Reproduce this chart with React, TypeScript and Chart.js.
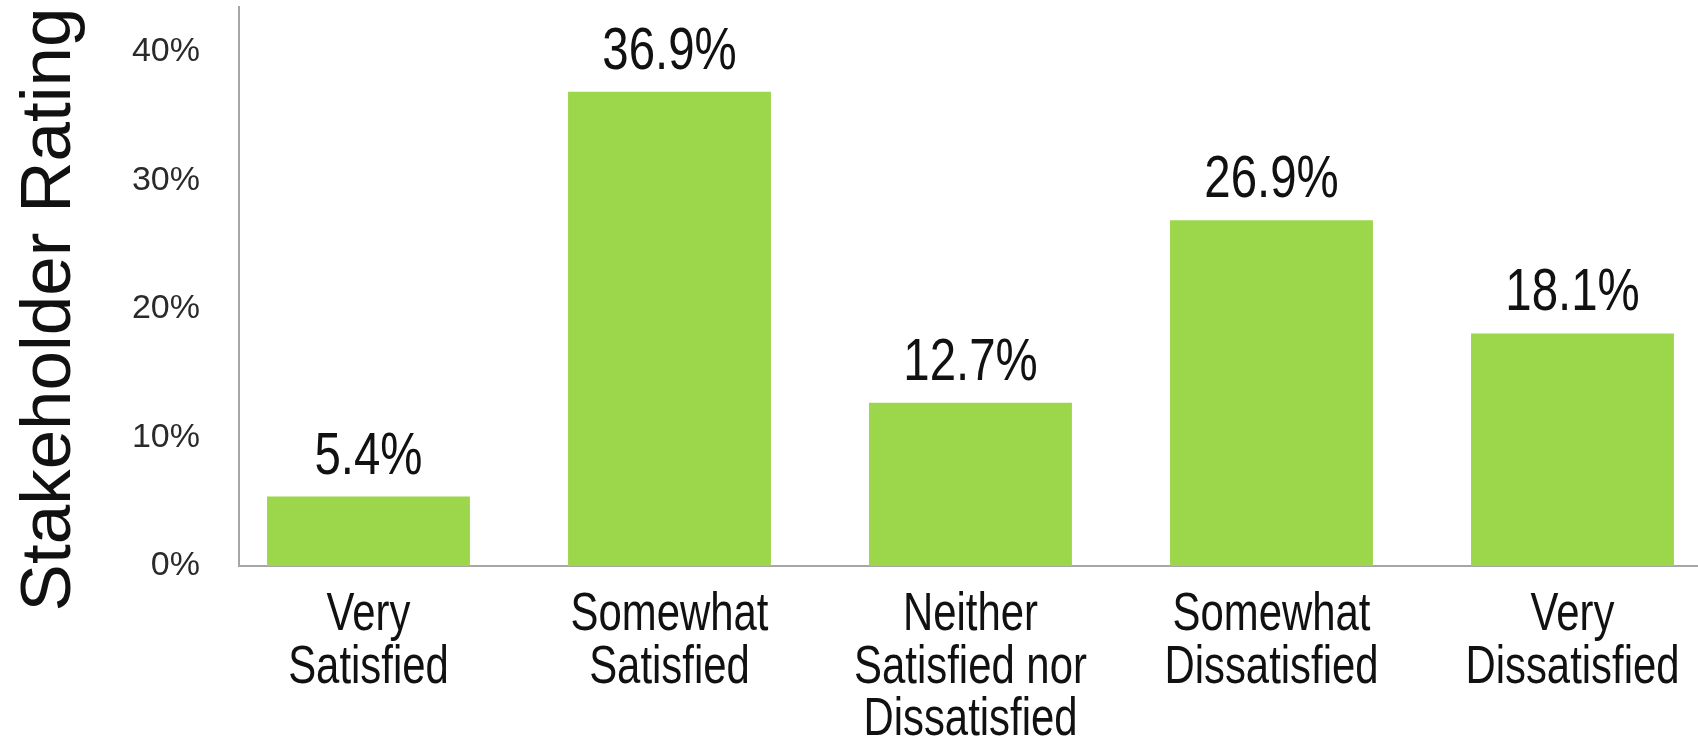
import React, { useEffect, useRef } from "react";
import { Chart, registerables } from "chart.js";

Chart.register(...registerables);

const categories: string[][] = [
  ["Very", "Satisfied"],
  ["Somewhat", "Satisfied"],
  ["Neither", "Satisfied nor", "Dissatisfied"],
  ["Somewhat", "Dissatisfied"],
  ["Very", "Dissatisfied"],
];
const values: number[] = [5.4, 36.9, 12.7, 26.9, 18.1];
const yTicks: number[] = [0, 10, 20, 30, 40];
const yTitle = "Stakeholder Rating";

const BAR_COLOR = "#9BD64B";
const AXIS_COLOR = "#A6A6A6";
const TEXT_COLOR = "#111111";
const SANS = "'Liberation Sans', Arial, sans-serif";
const CONDENSE = 0.79;

function condensedText(ctx: CanvasRenderingContext2D, text: string, x: number, y: number) {
  ctx.save();
  ctx.translate(x, y);
  ctx.scale(CONDENSE, 1);
  ctx.fillText(text, 0, 0);
  ctx.restore();
}

const valueLabels = {
  id: "valueLabels",
  afterDatasetsDraw(chart: any) {
    const ctx = chart.ctx;
    const meta = chart.getDatasetMeta(0);
    ctx.save();
    ctx.font = `60px ${SANS}`;
    ctx.fillStyle = TEXT_COLOR;
    ctx.textAlign = "center";
    ctx.textBaseline = "alphabetic";
    meta.data.forEach((bar: any, i: number) => {
      condensedText(ctx, `${values[i].toFixed(1)}%`, bar.x, bar.y - 23);
    });
    ctx.restore();
  },
};

const categoryLabels = {
  id: "categoryLabels",
  afterDraw(chart: any) {
    const ctx = chart.ctx;
    const xScale = chart.scales.x;
    ctx.save();
    ctx.font = `53px ${SANS}`;
    ctx.fillStyle = TEXT_COLOR;
    ctx.textAlign = "center";
    ctx.textBaseline = "alphabetic";
    categories.forEach((lines, i) => {
      const cx = xScale.getPixelForValue(i);
      lines.forEach((line, j) => {
        condensedText(ctx, line, cx, xScale.top + 64 + j * 52.5);
      });
    });
    ctx.restore();
  },
};

const yTitlePlugin = {
  id: "yTitlePlugin",
  afterDraw(chart: any) {
    const ctx = chart.ctx;
    ctx.save();
    ctx.translate(70, 309.5);
    ctx.rotate(-Math.PI / 2);
    ctx.font = `71px ${SANS}`;
    ctx.fillStyle = TEXT_COLOR;
    ctx.textAlign = "center";
    ctx.textBaseline = "alphabetic";
    ctx.fillText(yTitle, 0, 0);
    ctx.restore();
  },
};

export default function App() {
  const canvasRef = useRef<HTMLCanvasElement | null>(null);

  useEffect(() => {
    const canvas = canvasRef.current;
    if (!canvas) return;
    const chart = new Chart(canvas, {
      type: "bar",
      data: {
        datasets: [
          {
            data: values.map((v, i) => ({ x: i, y: v })),
            backgroundColor: BAR_COLOR,
            borderWidth: 0,
            categoryPercentage: 1,
            barPercentage: 0.674,
          },
        ],
      },
      options: {
        responsive: false,
        animation: false,
        devicePixelRatio: 1,
        layout: { padding: { top: 7, right: 0, bottom: 0, left: 0 } },
        plugins: {
          legend: { display: false },
          tooltip: { enabled: false },
          title: { display: false },
        },
        scales: {
          x: {
            type: "linear",
            offset: false,
            min: -0.4302,
            max: 4.417,
            grid: { display: false },
            border: { display: true, color: AXIS_COLOR, width: 2 },
            afterBuildTicks: (scale: any) => {
              scale.ticks = categories.map((_, i) => ({ value: i }));
            },
            afterFit: (scale: any) => {
              scale.height = 174;
              scale.paddingLeft = 0;
              scale.paddingRight = 0;
            },
            ticks: { display: false },
          },
          y: {
            type: "linear",
            min: 0,
            max: 43.5,
            grid: { display: false },
            border: { display: true, color: AXIS_COLOR, width: 2 },
            afterBuildTicks: (scale: any) => {
              scale.ticks = yTicks.map((v) => ({ value: v }));
            },
            afterFit: (scale: any) => {
              scale.width = 239;
              scale.paddingTop = 0;
              scale.paddingBottom = 0;
            },
            ticks: {
              padding: 31,
              color: "#2a2a2a",
              font: { family: SANS, size: 34 },
              callback: (v: any) => `${v}%`,
            },
          },
        },
      },
      plugins: [valueLabels, categoryLabels, yTitlePlugin],
    });
    return () => chart.destroy();
  }, []);

  return (
    <div
      style={{
        position: "fixed",
        left: 0,
        top: 0,
        width: 1698,
        height: 740,
        background: "#ffffff",
      }}
    >
      <canvas ref={canvasRef} width={1698} height={740} />
    </div>
  );
}
